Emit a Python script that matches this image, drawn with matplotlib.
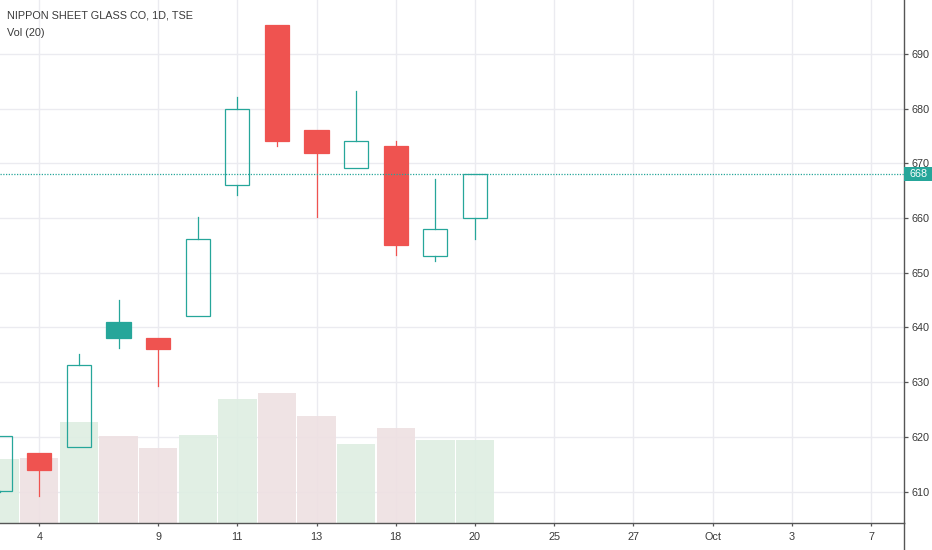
import numpy as np
import pandas as pd
import matplotlib
matplotlib.use('Agg')
import matplotlib.pyplot as plt
import matplotlib.transforms as mtransforms
from matplotlib.patches import Rectangle
from matplotlib.lines import Line2D

plt.rcParams['font.family'] = ['Liberation Sans', 'DejaVu Sans']

# trading sessions shown on the time axis (TSE, Sep/Oct 2019)
sessions = ['2019-09-03', '2019-09-04', '2019-09-05', '2019-09-06', '2019-09-09',
            '2019-09-10', '2019-09-11', '2019-09-12', '2019-09-13', '2019-09-17',
            '2019-09-18', '2019-09-19', '2019-09-20', '2019-09-24', '2019-09-25',
            '2019-09-26', '2019-09-27', '2019-09-30', '2019-10-01', '2019-10-02',
            '2019-10-03', '2019-10-04', '2019-10-07']
tick_dates = ['2019-09-04', '2019-09-09', '2019-09-11', '2019-09-13', '2019-09-18',
              '2019-09-20', '2019-09-25', '2019-09-27', '2019-10-01', '2019-10-03',
              '2019-10-07']
tick_labels = ['4', '9', '11', '13', '18', '20', '25', '27', 'Oct', '3', '7']

# daily bars (first 13 sessions)
opens = [610.1, 617.0, 618.1, 641.0, 638.1, 642.1, 666.0, 695.2, 676.1, 669.1, 673.2, 653.1, 660.0]
highs = [620.2, 617.0, 635.1, 645.0, 638.1, 660.1, 682.1, 695.2, 676.1, 683.2, 674.1, 667.2, 668.0]
lows = [610.0, 609.2, 618.1, 636.2, 629.2, 642.1, 664.2, 673.2, 660.2, 669.1, 653.2, 652.2, 656.2]
closes = [620.1, 614.0, 633.1, 638.1, 636.0, 656.1, 680.0, 674.0, 671.9, 674.0, 655.1, 658.0, 668.0]
volumes = [320, 325, 503, 433, 375, 438, 618, 648, 533, 392, 475, 415, 415]  # thousands

last_price = 668
price_ticks = [610, 620, 630, 640, 650, 660, 670, 680, 690]

UP = '#26a69a'
DOWN = '#ef5350'
VOL_UP = '#deeee2'
VOL_DOWN = '#eee0e2'
GRID = '#ebebf0'
TEXT = '#3a3a3a'
AXIS = '#555555'

sess = pd.to_datetime(sessions)
idx = {d: i for i, d in enumerate(sess)}
tick_pos = [idx[d] for d in pd.to_datetime(tick_dates)]

W, H = 932, 550
YLIM = (604.3, 699.85)
XLIM = (0.008, 22.84)
fig = plt.figure(figsize=(W / 100, H / 100), dpi=100)
ax = fig.add_axes([0, 27.3 / H, 904.3 / W, (H - 27.3) / H])
axv = ax.twinx()
ax.set_zorder(2)
ax.patch.set_visible(False)
axv.set_zorder(1)

# volume pane
vol_col = [VOL_UP if c >= o else VOL_DOWN for o, c in zip(opens, closes)]
axv.bar(range(len(volumes)), volumes, width=0.97, color=vol_col, alpha=0.9, zorder=2)
axv.set_ylim(0, 2613)
axv.set_yticks([])
for s in axv.spines.values():
    s.set_visible(False)

# grid goes on the volume axis so bars sit over it
for p in price_ticks:
    y = (p - YLIM[0]) / (YLIM[1] - YLIM[0]) * 2613
    axv.axhline(y, color=GRID, lw=1, zorder=1)
for t in tick_pos:
    axv.axvline(t, color=GRID, lw=1, zorder=1)

# candles
bw = 0.61
prev = None
for i, (o, h, l, c) in enumerate(zip(opens, highs, lows, closes)):
    col = UP if (prev is None or c >= prev) else DOWN
    hollow = c >= o
    lo, hi = min(o, c), max(o, c)
    ax.add_line(Line2D([i, i], [hi, h], color=col, lw=0.9, zorder=3))
    ax.add_line(Line2D([i, i], [l, lo], color=col, lw=0.9, zorder=3))
    ax.add_patch(Rectangle((i - bw / 2, lo), bw, hi - lo,
                           facecolor='none' if hollow else col,
                           edgecolor=col, lw=0.9, zorder=4))
    prev = c

# last price line
ax.axhline(last_price, color=UP, lw=0.9, ls=(0, (1, 1.2)), zorder=5)

ax.set_xlim(*XLIM)
ax.set_ylim(*YLIM)
axv.set_xlim(*XLIM)

ax.set_xticks(tick_pos)
ax.set_xticklabels(tick_labels)
ax.yaxis.tick_right()
ax.set_yticks(price_ticks)
ax.set_yticklabels([str(p) for p in price_ticks])
ax.tick_params(axis='x', length=2.5, width=0.9, color=AXIS, labelcolor=TEXT,
               labelsize=7.8, pad=4.5)
ax.tick_params(axis='y', length=3, width=0.9, color=AXIS, labelcolor=TEXT,
               labelsize=7.8, pad=2)
for side in ['top', 'left']:
    ax.spines[side].set_visible(False)
ax.spines['right'].set_color(AXIS)
ax.spines['bottom'].set_color(AXIS)
ax.spines['right'].set_linewidth(1)
ax.spines['bottom'].set_linewidth(1)

# price axis continues below the time axis
fig.add_artist(Line2D([904.3 / W, 904.3 / W], [0, 27.3 / H], color=AXIS, lw=1,
                      transform=fig.transFigure))

# last price tag on the price scale
trans = mtransforms.blended_transform_factory(ax.transAxes, ax.transData)
tag_w = 28 / 904.3
tag_h = 14.4 / ((H - 27.3) / (YLIM[1] - YLIM[0]))
ax.add_patch(Rectangle((1.0, last_price - tag_h / 2), tag_w, tag_h, transform=trans,
                       facecolor=UP, edgecolor='none', clip_on=False, zorder=10))
ax.text(1.0 + tag_w / 2, last_price, str(last_price), transform=trans, color='white',
        fontsize=7.8, ha='center', va='center', clip_on=False, zorder=11)

fig.text(7 / W, 1 - 16 / H, 'NIPPON SHEET GLASS CO, 1D, TSE', color=TEXT,
         fontsize=7.8, va='center', ha='left')
fig.text(7 / W, 1 - 33 / H, 'Vol (20)', color=TEXT, fontsize=7.8, va='center', ha='left')

fig.savefig('out.png', dpi=100, facecolor='white')
